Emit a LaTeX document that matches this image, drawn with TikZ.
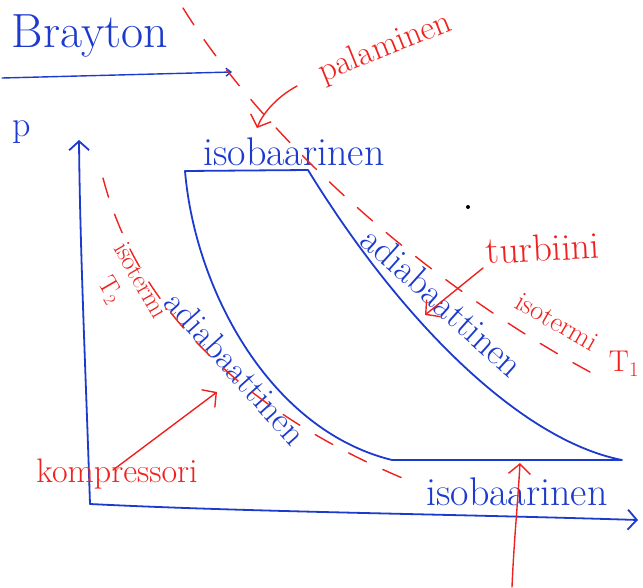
\documentclass[tikz,border=0pt]{standalone}
\usepackage{tikz}
\usetikzlibrary{arrows.meta,calc}
\usepackage{xcolor}
\definecolor{penblue}{RGB}{28,58,205}
\definecolor{penred}{RGB}{238,34,30}
\newcommand{\penfs}[1]{\fontsize{#1}{#1}\selectfont}

\begin{document}
\begin{tikzpicture}[x=1pt, y=-1pt, every node/.style={inner sep=0pt},
  bline/.style={draw=penblue, line width=1.8pt, line cap=round, line join=round},
  rline/.style={draw=penred, line width=1.4pt, line cap=round},
  rdash/.style={rline, dash pattern=on 20pt off 18pt},
  btxt/.style={text=penblue},
  rtxt/.style={text=penred},
  btip/.style={-{Straight Barb[length=9pt,width=20pt]}},
  rtip/.style={-{Straight Barb[length=10pt,width=22pt]}}]
  \useasboundingbox (0,0) rectangle (643,587);

  \node[btxt, font=\penfs{48}] (title) at (90,36) {Brayton};
  \coordinate (ul0) at (2,78);
  \coordinate (ul1) at (232,72);
  \draw[bline, line width=1.4pt, -{Straight Barb[length=5pt,width=8pt]}] (ul0) -- (ul1);
  \node[btxt, font=\penfs{36}] (p) at (22,132) {p};

  % axes
  \coordinate (o) at (90,504);
  \coordinate (ptop) at (79,140);
  \coordinate (vend) at (638,520);
  \draw[bline, btip] (o) .. controls (86,380) and (80,250) .. (ptop);
  \draw[bline, btip] (o) .. controls (250,512) and (450,514) .. (vend);

  % cycle
  \coordinate (c1) at (185,171);
  \coordinate (c2) at (308,170);
  \coordinate (c3) at (622,460);
  \coordinate (c4) at (392,460);
  \draw[bline] (c4) .. controls (270,430) and (195,290) .. (c1) -- (c2)
    .. controls (400,320) and (520,440) .. (c3) -- (c4);

  \node[btxt, font=\penfs{40}] (isotop) at (294,152) {isobaarinen};
  \node[btxt, font=\penfs{35}, rotate=-48] (adl) at (236,368) {adiabaattinen};
  \node[btxt, font=\penfs{37}, rotate=-42] (adr) at (443,302) {adiabaattinen};
  \node[btxt, font=\penfs{40}] (isobot) at (517,492) {isobaarinen};

  % isotherms
  \coordinate (t1a) at (183,8);
  \coordinate (t1b) at (590,372);
  \draw[rdash] (t1a) .. controls (262,135) and (420,280) .. (t1b);
  \coordinate (t2a) at (103,178);
  \coordinate (t2b) at (412,482);
  \draw[rdash] (t2a) .. controls (140,320) and (260,420) .. (t2b);

  \node[rtxt, font=\penfs{34}, rotate=22] (pal) at (385,48) {palaminen};
  \coordinate (palst) at (297,86);
  \coordinate (palend) at (257,128);
  \draw[rline, rtip] (palst) .. controls (275,98) and (262,115) .. (palend);
  \node[rtxt, font=\penfs{38}, rotate=3] (turb) at (543,248) {turbiini};
  \coordinate (turbst) at (483,268);
  \coordinate (turbend) at (425,315);
  \draw[rline, rtip] (turbst) -- (turbend);
  \node[rtxt, font=\penfs{28}, rotate=-30] (isot1) at (557,322) {isotermi};
  \node[rtxt, font=\penfs{30}] (T1) at (624,364) {T$_1$};
  \node[rtxt, font=\penfs{26}, rotate=-60] (isot2) at (141,280) {isotermi};
  \node[rtxt, font=\penfs{26}, rotate=-60] (T2) at (110,290) {T$_2$};
  \node[rtxt, font=\penfs{34}] (komp) at (117,474) {kompressori};
  \coordinate (kompst) at (113,470);
  \coordinate (kompend) at (217,392);
  \draw[rline, rtip] (kompst) -- (kompend);
  \coordinate (bst) at (512,587);
  \coordinate (bend) at (520,463);
  \draw[rline, rtip] (bst) .. controls (514,540) and (518,500) .. (bend);

  \fill (468,207) circle (2);
\end{tikzpicture}
\end{document}
